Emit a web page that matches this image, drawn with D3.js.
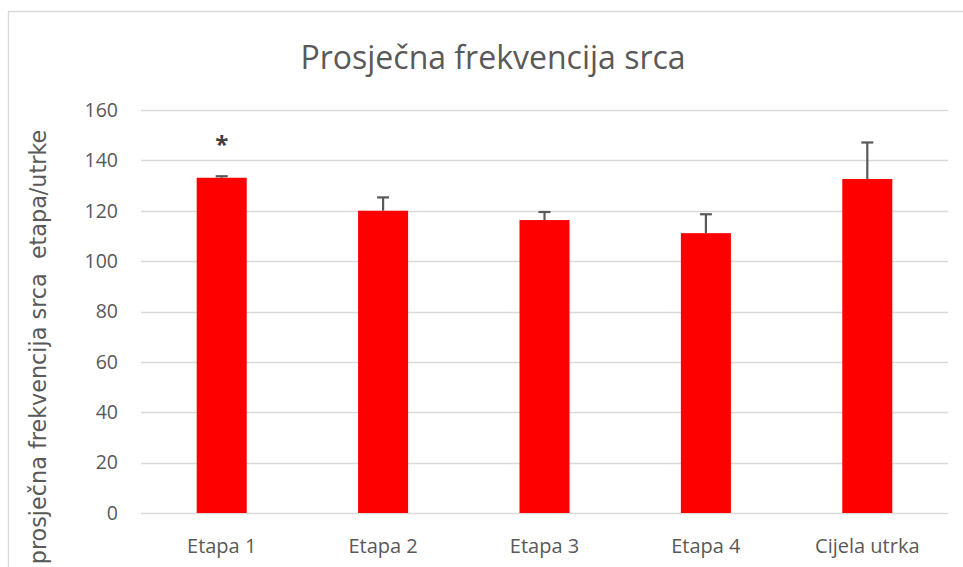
<!DOCTYPE html>
<html>
<head>
<meta charset="utf-8">
<script src="https://cdn.jsdelivr.net/npm/d3@7"></script>
<style>
  body { margin: 0; background: #fff; }
  text { font-family: "Open Sans", "Noto Sans", sans-serif; fill: #595959; }
</style>
</head>
<body>
<svg id="chart" width="963" height="567"></svg>
<script>
// categories and values
var categories = ['Etapa 1', 'Etapa 2', 'Etapa 3', 'Etapa 4', 'Cijela utrka'];
var means = [133.1, 120.0, 116.3, 111.1, 132.6];
var errors = [0.6, 5.3, 3.2, 7.5, 14.5];
var marks = ['*', '', '', '', ''];
var yTicks = [0, 20, 40, 60, 80, 100, 120, 140, 160];

var svg = d3.select('#chart');
var margin = {left: 141, right: 15, top: 110, bottom: 54};
var W = 963, H = 567;

// frame of the chart area (top and left edge visible)
svg.append('path')
  .attr('d', 'M8.5,' + H + 'V11.5H' + W)
  .attr('fill', 'none')
  .attr('stroke', '#d9d9d9')
  .attr('stroke-width', 1.3);

var x = d3.scaleBand().domain(categories)
  .range([margin.left, W - margin.right])
  .paddingInner(0.69).paddingOuter(0.345);

var y = d3.scaleLinear().domain([0, 160]).range([H - margin.bottom, margin.top]);

// gridlines
svg.append('g').selectAll('line').data(yTicks).join('line')
  .attr('x1', margin.left).attr('x2', W - margin.right)
  .attr('y1', function(d){return Math.round(y(d)) + 0.5;})
  .attr('y2', function(d){return Math.round(y(d)) + 0.5;})
  .attr('stroke', '#d9d9d9')
  .attr('stroke-width', 1.3);

// y axis labels
svg.append('g').selectAll('text').data(yTicks).join('text')
  .attr('x', 118).attr('y', function(d){return y(d);})
  .attr('dy', '0.35em')
  .attr('text-anchor', 'end')
  .style('font-size', '19.5px')
  .text(function(d){return d;});

// bars
var rows = categories.map(function(c, i){return {cat: c, v: means[i], e: errors[i], m: marks[i]};});

svg.append('g').selectAll('rect').data(rows).join('rect')
  .attr('x', function(d){return x(d.cat);})
  .attr('width', x.bandwidth())
  .attr('y', function(d){return y(d.v);})
  .attr('height', function(d){return y(0) - y(d.v);})
  .attr('fill', '#ff0000');

// error bars (upper only)
var eb = svg.append('g').attr('stroke', '#595959').attr('stroke-width', 2.2);
eb.selectAll('line.v').data(rows).join('line').attr('class', 'v')
  .attr('x1', function(d){return x(d.cat) + x.bandwidth() / 2;})
  .attr('x2', function(d){return x(d.cat) + x.bandwidth() / 2;})
  .attr('y1', function(d){return y(d.v);})
  .attr('y2', function(d){return y(d.v + d.e);});
eb.selectAll('line.cap').data(rows).join('line').attr('class', 'cap')
  .attr('x1', function(d){return x(d.cat) + x.bandwidth() / 2 - 6;})
  .attr('x2', function(d){return x(d.cat) + x.bandwidth() / 2 + 6;})
  .attr('y1', function(d){return y(d.v + d.e);})
  .attr('y2', function(d){return y(d.v + d.e);});

// significance mark
svg.append('g').selectAll('text').data(rows.filter(function(d){return d.m;})).join('text')
  .attr('x', function(d){return x(d.cat) + x.bandwidth() / 2;})
  .attr('y', 153)
  .attr('text-anchor', 'middle')
  .style('font-size', '24px')
  .style('font-weight', 'bold')
  .style('fill', '#404040')
  .text(function(d){return d.m;});

// x labels
svg.append('g').selectAll('text').data(categories).join('text')
  .attr('x', function(d){return x(d) + x.bandwidth() / 2;})
  .attr('y', 553)
  .attr('text-anchor', 'middle')
  .style('font-size', '20px')
  .text(function(d){return d;});

// title
svg.append('text')
  .attr('x', 493).attr('y', 69)
  .attr('text-anchor', 'middle')
  .style('font-size', '32px')
  .text('Prosječna frekvencija srca');

// y axis title
svg.append('text')
  .attr('transform', 'translate(46,347) rotate(-90)')
  .attr('text-anchor', 'middle')
  .style('font-family', '"DejaVu Sans", sans-serif')
  .style('font-size', '22.3px')
  .style('white-space', 'pre')
  .text('prosječna frekvencija srca  etapa/utrke');
</script>
</body>
</html>
